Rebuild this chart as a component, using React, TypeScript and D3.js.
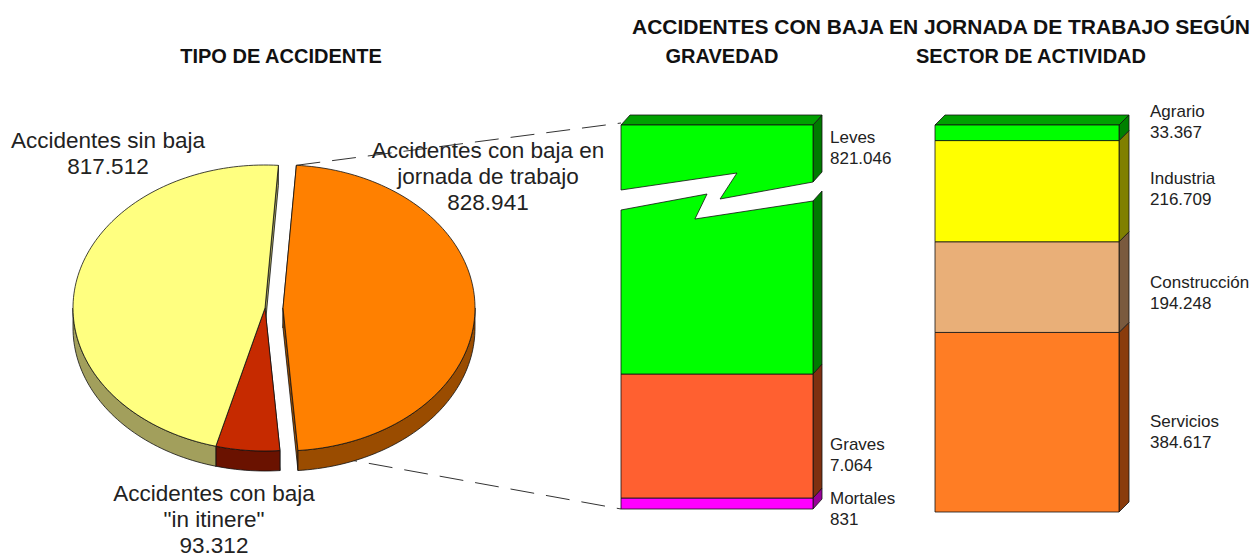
import React from "react";
import * as d3 from "d3";

// ---------------- DATA ----------------
const pieCategories = [
  "Accidentes con baja en jornada de trabajo",
  "Accidentes con baja \"in itinere\"",
  "Accidentes sin baja",
];
const pieValues = [828941, 93312, 817512];

const gravedadCategories = ["Mortales", "Graves", "Leves"];
const gravedadValues = [831, 7064, 821046];

const sectorCategories = ["Servicios", "Construcción", "Industria", "Agrario"];
const sectorValues = [384617, 194248, 216709, 33367];

const titleMain = "ACCIDENTES CON BAJA EN JORNADA DE TRABAJO SEGÚN";
const titlePie = "TIPO DE ACCIDENTE";
const titleGravedad = "GRAVEDAD";
const titleSector = "SECTOR DE ACTIVIDAD";

// ---------------- STYLE / LAYOUT ----------------
const FONT = "'Liberation Sans', Arial, Helvetica, sans-serif";
const fmt = d3
  .formatLocale({ decimal: ",", thousands: ".", grouping: [3], currency: ["", ""] })
  .format(",d");

const pieLabelLines = [
  ["Accidentes con baja en", "jornada de trabajo"],
  ["Accidentes con baja", "\"in itinere\""],
  ["Accidentes sin baja"],
];
const pieLabelPos = [
  [488, 158],
  [214, 501],
  [108, 148],
];
const pieTopColors = ["#FF8000", "#C62A00", "#FFFF80"];
const pieSideColors = ["#9A4C00", "#6A1200", "#A29F5C"];
const pieExplode = [18, 0, 0];

const gravFront = ["#FF00FF", "#FF6030", "#00FF00"];
const gravSide = ["#990099", "#7E3010", "#007A00"];
const gravTop = "#00A000";

const secFront = ["#FF7D24", "#E9AF78", "#FFFF00", "#00FF00"];
const secSide = ["#8A3C0C", "#7A5A3E", "#808000", "#008000"];
const secTop = "#00A000";

export default function App() {
  // ---------- PIE ----------
  const CX = 265, CY = 308, RX = 192, RY = 143, DEPTH = 20;
  const a0 = (4 * Math.PI) / 180;
  const arcs = d3.pie<number>().sort(null).startAngle(a0).endAngle(a0 + 2 * Math.PI)(pieValues);

  const centers = arcs.map((a, i) => {
    const mid = (a.startAngle + a.endAngle) / 2;
    return [CX + pieExplode[i] * Math.sin(mid), CY - pieExplode[i] * Math.cos(mid) * (RY / RX)];
  });
  const rim = (a: number, c: number[], dz = 0) => [c[0] + RX * Math.sin(a), c[1] - RY * Math.cos(a) + dz];
  const sample = (s: number, e: number) => {
    const n = Math.max(2, Math.ceil(((e - s) / (2 * Math.PI)) * 240));
    return d3.range(n + 1).map((k) => s + ((e - s) * k) / n);
  };
  const line = d3.line();

  const topPaths = arcs.map((a, i) => {
    const c = centers[i];
    const pts = [c, ...sample(a.startAngle, a.endAngle).map((t) => rim(t, c))];
    return line(pts as any) + "Z";
  });
  const sidePaths = arcs.map((a, i) => {
    const c = centers[i];
    const s = Math.max(a.startAngle, Math.PI / 2);
    const e = Math.min(a.endAngle, (3 * Math.PI) / 2);
    if (e <= s) return null;
    const ang = sample(s, e);
    const pts = [...ang.map((t) => rim(t, c)), ...ang.slice().reverse().map((t) => rim(t, c, DEPTH))];
    return line(pts as any) + "Z";
  });
  const radialPaths = arcs.flatMap((a, i) => {
    const c = centers[i];
    return [a.startAngle, a.endAngle].map((t) => {
      const r = rim(t, c);
      const pts = [c, r, [r[0], r[1] + DEPTH], [c[0], c[1] + DEPTH]];
      return { d: line(pts as any) + "Z", fill: pieSideColors[i] };
    });
  });

  // ---------- GRAVEDAD BAR ----------
  const gx = 621, gw = 192, gdx = 9, gdy = 10;
  const gBottom = 509, gTopY = 125;
  const gCum = d3.cumsum(gravedadValues);
  // broken scale: small segments kept readable, large segment cut
  const gy = d3
    .scaleLinear()
    .domain([0, gCum[0], gCum[1], gCum[2]])
    .range([gBottom, gBottom - 11, gBottom - 135, gTopY]);
  const gSegs = gravedadValues.map((v, i) => ({
    y0: gy(i === 0 ? 0 : gCum[i - 1]),
    y1: gy(gCum[i]),
  }));
  const gx1 = gx + gw;
  const upperBreak = [[0, 65], [0.604, 48], [0.516, 74], [1, 57]];
  const lowerBreak = [[0, 85], [0.448, 69], [0.385, 94], [1, 76]];
  const bp = (p: number[]) => [gx + p[0] * gw, gTopY + p[1]];

  // ---------- SECTOR BAR ----------
  const sx = 935, sw = 184, sdx = 10, sdy = 10;
  const sBottom = 512, sTopY = 125;
  const sCum = d3.cumsum(sectorValues);
  const sy = d3.scaleLinear().domain([0, sCum[sCum.length - 1]]).range([sBottom, sTopY]);
  const sSegs = sectorValues.map((v, i) => ({ y0: sy(i === 0 ? 0 : sCum[i - 1]), y1: sy(sCum[i]) }));
  const sx1 = sx + sw;
  const secLabelNudge = [5, 1, -7, -16];

  const poly = (pts: number[][]) => line(pts as any) + "Z";
  const stroke = { stroke: "#111", strokeWidth: 0.8, strokeLinejoin: "round" as const };

  // connectors
  const oArc = arcs[0];
  const cTop = rim(oArc.startAngle, centers[0]);
  const cBot = rim(oArc.endAngle, centers[0]);

  const lbl = { fontFamily: FONT, fill: "#222" };

  return (
    <svg
      width={1257}
      height={557}
      style={{ position: "absolute", left: 0, top: 0, display: "block", background: "#fff" }}
    >
      {/* titles */}
      <g fontFamily={FONT} fontWeight="bold" fontSize={20} fill="#111">
        <text x={632} y={34} fontSize={21}>{titleMain}</text>
        <text x={281} y={63} textAnchor="middle">{titlePie}</text>
        <text x={722} y={63} textAnchor="middle">{titleGravedad}</text>
        <text x={1031} y={63} textAnchor="middle">{titleSector}</text>
      </g>

      {/* connectors */}
      <g stroke="#333" strokeWidth={1} strokeDasharray="24 12" fill="none">
        <line x1={cTop[0]} y1={cTop[1]} x2={gx} y2={gTopY - 2} />
        <line x1={cBot[0]} y1={cBot[1]} x2={gx} y2={gBottom} />
      </g>

      {/* pie */}
      <g>
        {radialPaths.map((r, k) => (
          <path key={"r" + k} d={r.d} fill={r.fill} {...stroke} />
        ))}
        {sidePaths.map((d, i) => (d ? <path key={"s" + i} d={d} fill={pieSideColors[i]} {...stroke} /> : null))}
        {topPaths.map((d, i) => (
          <path key={"t" + i} d={d} fill={pieTopColors[i]} {...stroke} />
        ))}
      </g>

      {/* pie labels */}
      <g {...lbl} fontSize={22.5} textAnchor="middle">
        {pieCategories.map((c, i) => {
          const lines = [...pieLabelLines[i], fmt(pieValues[i])];
          return (
            <text key={c} x={pieLabelPos[i][0]} y={pieLabelPos[i][1]}>
              {lines.map((l, k) => (
                <tspan key={k} x={pieLabelPos[i][0]} dy={k === 0 ? 0 : 26}>
                  {l}
                </tspan>
              ))}
            </text>
          );
        })}
      </g>

      {/* gravedad bar */}
      <g>
        {gSegs.slice(0, 2).map((s, i) => (
          <path
            key={"gs" + i}
            d={poly([[gx1, s.y1], [gx1 + gdx, s.y1 - gdy], [gx1 + gdx, s.y0 - gdy], [gx1, s.y0]])}
            fill={gravSide[i]}
            {...stroke}
          />
        ))}
        <path
          d={poly([[gx1, gTopY], [gx1 + gdx, gTopY - gdy], [gx1 + gdx, gTopY + upperBreak[3][1] - gdy], [gx1, gTopY + upperBreak[3][1]]])}
          fill={gravSide[2]}
          {...stroke}
        />
        <path
          d={poly([[gx1, gTopY + lowerBreak[3][1]], [gx1 + gdx, gTopY + lowerBreak[3][1] - gdy], [gx1 + gdx, gSegs[2].y0 - gdy], [gx1, gSegs[2].y0]])}
          fill={gravSide[2]}
          {...stroke}
        />
        <path d={poly([[gx, gTopY], [gx + gdx, gTopY - gdy], [gx1 + gdx, gTopY - gdy], [gx1, gTopY]])} fill={gravTop} {...stroke} />
        {gSegs.slice(0, 2).map((s, i) => (
          <rect key={"gf" + i} x={gx} y={s.y1} width={gw} height={s.y0 - s.y1} fill={gravFront[i]} {...stroke} />
        ))}
        <path d={poly([[gx, gTopY], [gx1, gTopY], ...upperBreak.slice().reverse().map(bp)])} fill={gravFront[2]} {...stroke} />
        <path d={poly([...lowerBreak.map(bp), [gx1, gSegs[2].y0], [gx, gSegs[2].y0]])} fill={gravFront[2]} {...stroke} />
      </g>

      {/* gravedad labels */}
      <g {...lbl} fontSize={17}>
        {gravedadCategories.map((c, i) => {
          const s = gSegs[i];
          const y = i === 2 ? s.y1 + 18 : i === 1 ? s.y0 - 48 : (s.y0 + s.y1) / 2 + 0.5;
          return (
            <text key={c} x={830} y={y}>
              <tspan x={830}>{c}</tspan>
              <tspan x={830} dy={21}>{fmt(gravedadValues[i])}</tspan>
            </text>
          );
        })}
      </g>

      {/* sector bar */}
      <g>
        {sSegs.map((s, i) => (
          <path
            key={"ss" + i}
            d={poly([[sx1, s.y1], [sx1 + sdx, s.y1 - sdy], [sx1 + sdx, s.y0 - sdy], [sx1, s.y0]])}
            fill={secSide[i]}
            {...stroke}
          />
        ))}
        <path d={poly([[sx, sTopY], [sx + sdx, sTopY - sdy], [sx1 + sdx, sTopY - sdy], [sx1, sTopY]])} fill={secTop} {...stroke} />
        {sSegs.map((s, i) => (
          <rect key={"sf" + i} x={sx} y={s.y1} width={sw} height={s.y0 - s.y1} fill={secFront[i]} {...stroke} />
        ))}
      </g>

      {/* sector labels */}
      <g {...lbl} fontSize={17}>
        {sectorCategories.map((c, i) => {
          const s = sSegs[i];
          const y = (s.y0 + s.y1) / 2 + secLabelNudge[i];
          return (
            <text key={c} x={1150} y={y}>
              <tspan x={1150}>{c}</tspan>
              <tspan x={1150} dy={21}>{fmt(sectorValues[i])}</tspan>
            </text>
          );
        })}
      </g>
    </svg>
  );
}
